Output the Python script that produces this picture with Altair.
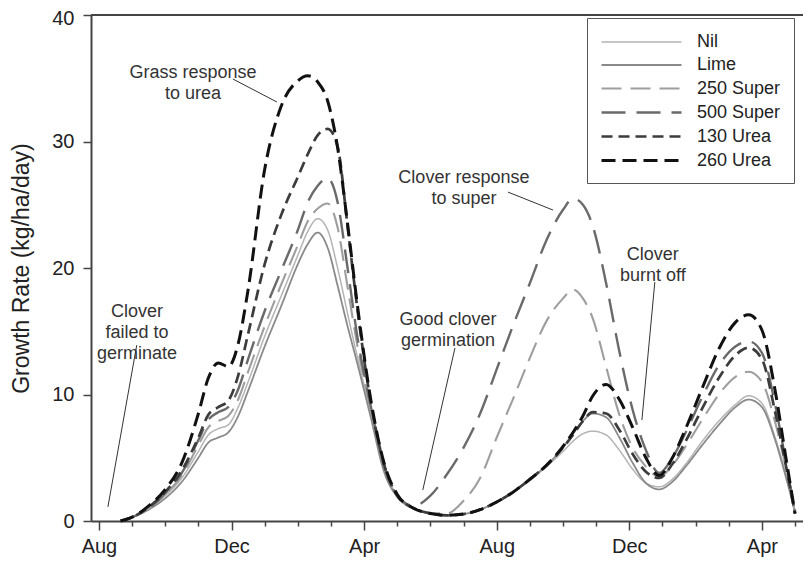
import altair as alt
import pandas as pd

# x position in months since the first August (Aug=0, Dec=4, Apr=8, ...)
months = [0.65, 1.0, 1.5, 2.0, 2.5, 3.0, 3.3, 3.6, 3.9, 4.2, 4.5, 5.0, 5.5, 6.0, 6.3, 6.6, 6.9,
          7.2, 7.5, 7.8, 8.2, 8.6, 9.0, 9.5, 10.0, 10.5, 11.0, 11.5, 12.0, 12.5, 13.0, 13.5,
          14.0, 14.3, 14.6, 14.9, 15.3, 15.7, 16.1, 16.5, 16.9, 17.3, 17.7, 18.2, 18.7, 19.2,
          19.6, 20.0, 20.4, 20.7, 21.0]

series_names = ["Nil", "Lime", "250 Super", "500 Super", "130 Urea", "260 Urea"]

nil = [0, 0.3, 1.0, 2.0, 3.4, 5.5, 6.8, 7.3, 7.6, 9.0, 11.0, 14.6, 17.8, 21.0, 22.9, 23.9, 23.0,
       20.0, 16.4, 12.9, 8.6, 4.2, 2.0, 1.0, 0.6, 0.45, 0.55, 0.9, 1.5, 2.3, 3.2, 4.3,
       5.5, 6.3, 6.9, 7.1, 6.8, 5.6, 4.1, 3.0, 2.7, 3.3, 4.5, 6.3, 7.9, 9.2,
       9.9, 9.3, 6.6, 3.9, 0.8]
lime = [0, 0.3, 0.9, 1.8, 3.1, 5.0, 6.2, 6.6, 7.0, 8.3, 10.3, 13.8, 17.0, 20.3, 21.9, 22.8, 21.6,
        18.6, 15.4, 12.4, 8.2, 3.9, 1.9, 1.0, 0.6, 0.45, 0.55, 0.9, 1.5, 2.3, 3.3, 4.4,
        5.8, 6.9, 7.9, 8.5, 8.2, 6.6, 4.6, 3.0, 2.5, 3.1, 4.3, 6.0, 7.6, 9.0,
        9.6, 9.0, 6.4, 3.7, 0.7]
super250 = [0, 0.3, 1.0, 2.1, 3.6, 6.0, 7.4, 7.9, 8.3, 9.6, 11.8, 15.4, 18.7, 21.8, 23.7, 24.7, 25.1,
            23.2, 18.5, 13.8, 8.9, 4.3, 2.0, 1.0, 0.6, 0.6, 1.6, 3.4, 6.6, 9.7, 12.9, 15.8,
            17.6, 18.3, 17.6, 16.0, 12.2, 8.4, 5.8, 4.3, 3.5, 4.4, 5.9, 8.0, 10.0, 11.4,
            11.8, 11.0, 7.8, 4.5, 0.6]
super500 = [0, 0.3, 1.0, 2.2, 3.8, 6.4, 8.0, 8.6, 9.0, 10.4, 12.8, 16.6, 19.8, 23.0, 25.2, 26.5, 27.1,
            25.2, 20.0, 14.5, 9.1, 4.4, 2.0, 1.2, 2.0, 3.7, 5.8, 8.5, 12.0, 15.5, 18.8, 22.2,
            24.6, 25.5, 25.0, 23.3, 18.8, 13.4, 8.8, 5.6, 3.8, 5.0, 7.0, 9.8, 12.3, 13.8,
            14.2, 13.3, 9.2, 5.0, 0.6]
urea130 = [0, 0.3, 1.1, 2.3, 4.0, 6.6, 8.4, 9.0, 9.5, 11.5, 14.8, 20.3, 24.2, 27.2, 29.0, 30.5, 31.0,
           29.6, 23.3, 16.7, 9.4, 4.5, 2.0, 1.0, 0.6, 0.45, 0.55, 0.9, 1.5, 2.3, 3.3, 4.4,
           5.8, 6.8, 7.9, 8.6, 8.5, 7.2, 5.3, 3.9, 3.4, 4.5, 6.3, 8.9, 11.3, 13.1,
           13.7, 12.8, 8.6, 4.7, 0.6]
urea260 = [0, 0.3, 1.2, 2.5, 4.6, 8.5, 11.3, 12.5, 12.2, 14.0, 18.3, 27.8, 32.8, 34.8, 35.2, 34.7, 33.2,
           29.5, 23.5, 17.0, 9.6, 4.6, 2.1, 1.0, 0.6, 0.45, 0.55, 0.9, 1.5, 2.3, 3.3, 4.4,
           5.9, 7.0, 8.3, 9.9, 10.8, 9.6, 7.4, 5.0, 3.6, 5.0, 7.3, 10.5, 13.6, 15.7,
           16.3, 15.1, 10.3, 5.4, 0.6]

tick_values = list(range(0, 22))
y_ticks = [0, 10, 20, 30, 40]

# annotations: text, anchor month, anchor rate, leader line (month, rate) -> (month2, rate2)
note_texts = ["Grass response\nto urea", "Clover\nfailed to\ngerminate", "Clover response\nto super",
              "Clover\nburnt off", "Good clover\ngermination"]
note_month = [2.84, 1.15, 11.01, 16.71, 10.53]
note_rate = [35.4, 16.56, 27.15, 21.03, 15.89]
lead_month = [4.04, 1.14, 12.34, 16.77, 10.74]
lead_rate = [34.94, 13.9, 26.0, 18.89, 13.68]
lead_month2 = [5.37, 0.27, 13.70, 16.38, 9.77]
lead_rate2 = [33.12, 1.11, 24.58, 7.98, 2.45]

colors = ["#b4b4b4", "#8a8a8a", "#9e9e9e", "#6a6a6a", "#3c3c3c", "#111111"]
dashes = [[1, 0], [1, 0], [20, 9], [24, 11], [11, 6], [14, 7]]
widths = [1.5, 3.0, 1.5, 3.5, 1.6, 3.6]

rows = []
for name, vals in zip(series_names, [nil, lime, super250, super500, urea130, urea260]):
    for m, v in zip(months, vals):
        rows.append({"month": m, "rate": v, "series": name})
df = pd.DataFrame(rows)

notes = pd.DataFrame({"month": note_month, "rate": note_rate, "text": note_texts})
leads = pd.DataFrame({"month": lead_month, "rate": lead_rate,
                      "month2": lead_month2, "rate2": lead_rate2})
frame = pd.DataFrame({"rate": [40]})

FONT = "Liberation Sans"
W, H = 712, 506

xscale = alt.Scale(domain=[-0.24, 21.24], nice=False, zero=False)
yscale = alt.Scale(domain=[0, 40], nice=False)
label_expr = ("datum.value % 4 === 0 ? ['Aug','Dec','Apr'][(datum.value / 4) % 3] : ''")
xaxis = alt.Axis(values=tick_values, title=None, grid=False, labelExpr=label_expr,
                 tickSize={"condition": {"test": "datum.value % 4 === 0", "value": 9}, "value": 5},
                 tickColor="#444", tickWidth=1.5, domainColor="#444", domainWidth=2,
                 labelFontSize=20, labelFont=FONT, labelColor="#222", labelPadding=6,
                 labelFlush=False, labelOverlap=False)
yaxis = alt.Axis(values=y_ticks, title="Growth Rate (kg/ha/day)", grid=False,
                 tickSize=8, tickColor="#444", tickWidth=1.5, domainColor="#444", domainWidth=2,
                 labelFontSize=20, labelFont=FONT, labelColor="#222", labelPadding=9,
                 labelOffset={"condition": {"test": "datum.value === 40", "value": 3}, "value": 0},
                 labelFlush=False,
                 titleFontSize=23, titleFont=FONT, titleFontWeight="normal", titleColor="#222",
                 titlePadding=18)

X = lambda f="month": alt.X(f"{f}:Q", scale=xscale, axis=xaxis)
Y = lambda f="rate": alt.Y(f"{f}:Q", scale=yscale, axis=yaxis)

legend = alt.Legend(title=None, orient="none", legendX=496, legendY=3,
                    symbolType="M-4,0H4", symbolSize=400, padding=13,
                    strokeColor="#555", fillColor="white",
                    labelFontSize=18, labelFont=FONT, labelColor="#222",
                    symbolOffset=30, labelOffset=44, rowPadding=3)

lines = alt.Chart(df).mark_line(interpolate="monotone").encode(
    x=X(), y=Y(),
    color=alt.Color("series:N", scale=alt.Scale(domain=series_names, range=colors), legend=legend),
    strokeDash=alt.StrokeDash("series:N", scale=alt.Scale(domain=series_names, range=dashes), legend=legend),
    strokeWidth=alt.StrokeWidth("series:N", scale=alt.Scale(domain=series_names, range=widths), legend=legend),
    detail="series:N",
)

top = alt.Chart(frame).mark_rule(color="#444", strokeWidth=2).encode(
    y=Y(), x=alt.value(0), x2=alt.value(W))

texts = alt.Chart(notes).mark_text(lineBreak="\n", align="center", baseline="middle",
                                   fontSize=18, font=FONT, color="#333", lineHeight=21).encode(
    x=X(), y=Y(), text="text:N")

rules = alt.Chart(leads).mark_rule(color="#333", strokeWidth=1).encode(
    x=X(), y=Y(), x2="month2:Q", y2="rate2:Q")

chart = alt.layer(lines, top, rules, texts).properties(
    width=W, height=H,
    padding={"left": 83, "top": 7, "right": 0, "bottom": 40},
    autosize=alt.AutoSizeParams(type="none"),
).configure_view(stroke=None).configure(background="white")

chart.save("out.html", embed_options={"renderer": "svg", "actions": False})
